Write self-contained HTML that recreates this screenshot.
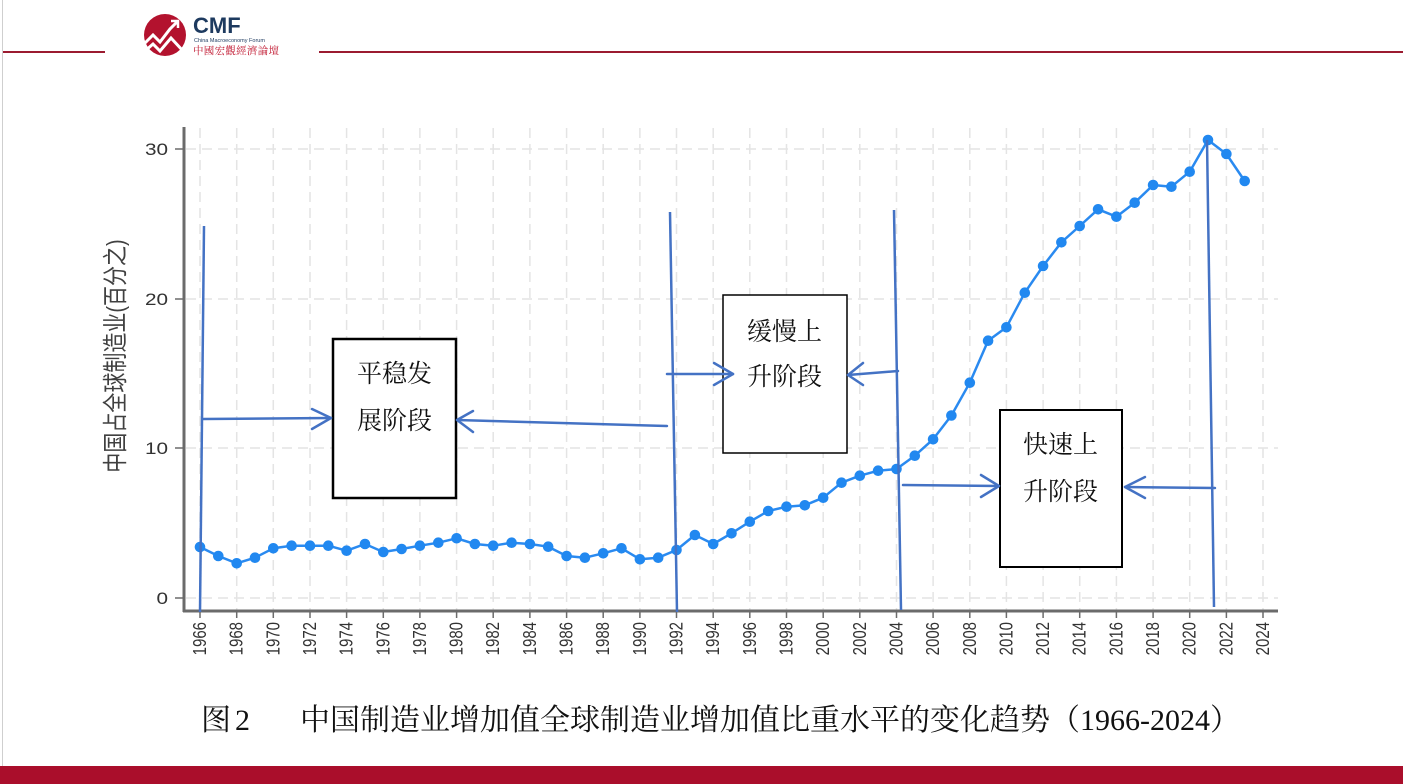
<!DOCTYPE html>
<html><head><meta charset="utf-8">
<style>
html,body{margin:0;padding:0;background:#fff;}
svg{display:block;}
</style></head>
<body>
<svg width="1403" height="784" viewBox="0 0 1403 784" xmlns="http://www.w3.org/2000/svg">
<rect x="0" y="0" width="1403" height="784" fill="#fff"/>
<!-- page left border -->
<line x1="2.5" y1="0" x2="2.5" y2="766" stroke="#cfcfcf" stroke-width="1"/>
<!-- header lines -->
<line x1="3" y1="52" x2="105" y2="52" stroke="#9b1b30" stroke-width="2"/>
<line x1="319" y1="52" x2="1403" y2="52" stroke="#9b1b30" stroke-width="2"/>
<!-- logo -->
<circle cx="165" cy="35" r="21" fill="#b3122e"/>
<polyline points="145,43 153,35 160,42 170,29 177,22" fill="none" stroke="#fff" stroke-width="3" stroke-linejoin="miter"/>
<polyline points="171,21 178,21 178,28" fill="none" stroke="#fff" stroke-width="2.5"/>
<polyline points="145,51 153,44 160,51 171,38 184,52" fill="none" stroke="#fff" stroke-width="3"/>
<text x="193" y="33" font-family="Liberation Sans, sans-serif" font-weight="bold" font-size="22" fill="#1d3a5f">CMF</text>
<text x="194" y="42" font-family="Liberation Sans, sans-serif" font-size="5.5" fill="#1d3a5f">China Macroeconomy Forum</text>
<text x="193" y="54" font-family="Liberation Serif, 'Noto Serif CJK SC', serif" font-size="10.5" fill="#c0162f" textLength="86">中國宏觀經濟論壇</text>

<!-- gridlines -->
<g stroke="#e4e4e4" stroke-width="1.5" stroke-dasharray="10,6" fill="none">
<line x1="186" y1="149" x2="1278" y2="149"/>
<line x1="186" y1="299" x2="1278" y2="299"/>
<line x1="186" y1="448" x2="1278" y2="448"/>
<line x1="186" y1="598" x2="1278" y2="598"/>
<line x1="200.0" y1="128" x2="200.0" y2="610"/>
<line x1="236.7" y1="128" x2="236.7" y2="610"/>
<line x1="273.3" y1="128" x2="273.3" y2="610"/>
<line x1="310.0" y1="128" x2="310.0" y2="610"/>
<line x1="346.6" y1="128" x2="346.6" y2="610"/>
<line x1="383.3" y1="128" x2="383.3" y2="610"/>
<line x1="419.9" y1="128" x2="419.9" y2="610"/>
<line x1="456.6" y1="128" x2="456.6" y2="610"/>
<line x1="493.2" y1="128" x2="493.2" y2="610"/>
<line x1="529.9" y1="128" x2="529.9" y2="610"/>
<line x1="566.6" y1="128" x2="566.6" y2="610"/>
<line x1="603.2" y1="128" x2="603.2" y2="610"/>
<line x1="639.9" y1="128" x2="639.9" y2="610"/>
<line x1="676.5" y1="128" x2="676.5" y2="610"/>
<line x1="713.2" y1="128" x2="713.2" y2="610"/>
<line x1="749.8" y1="128" x2="749.8" y2="610"/>
<line x1="786.5" y1="128" x2="786.5" y2="610"/>
<line x1="823.2" y1="128" x2="823.2" y2="610"/>
<line x1="859.8" y1="128" x2="859.8" y2="610"/>
<line x1="896.5" y1="128" x2="896.5" y2="610"/>
<line x1="933.1" y1="128" x2="933.1" y2="610"/>
<line x1="969.8" y1="128" x2="969.8" y2="610"/>
<line x1="1006.4" y1="128" x2="1006.4" y2="610"/>
<line x1="1043.1" y1="128" x2="1043.1" y2="610"/>
<line x1="1079.7" y1="128" x2="1079.7" y2="610"/>
<line x1="1116.4" y1="128" x2="1116.4" y2="610"/>
<line x1="1153.1" y1="128" x2="1153.1" y2="610"/>
<line x1="1189.7" y1="128" x2="1189.7" y2="610"/>
<line x1="1226.4" y1="128" x2="1226.4" y2="610"/>
<line x1="1263.0" y1="128" x2="1263.0" y2="610"/>
</g>

<!-- axes -->
<line x1="184" y1="127" x2="184" y2="612" stroke="#6b6b6b" stroke-width="3"/>
<line x1="183" y1="611" x2="1278" y2="611" stroke="#6b6b6b" stroke-width="3"/>
<g stroke="#6b6b6b" stroke-width="1.5">
<line x1="175" y1="149" x2="184" y2="149"/>
<line x1="175" y1="299" x2="184" y2="299"/>
<line x1="175" y1="448" x2="184" y2="448"/>
<line x1="175" y1="598" x2="184" y2="598"/>
</g>
<g stroke="#6b6b6b" stroke-width="1.5">
<line x1="200.0" y1="611" x2="200.0" y2="618"/>
<line x1="236.7" y1="611" x2="236.7" y2="618"/>
<line x1="273.3" y1="611" x2="273.3" y2="618"/>
<line x1="310.0" y1="611" x2="310.0" y2="618"/>
<line x1="346.6" y1="611" x2="346.6" y2="618"/>
<line x1="383.3" y1="611" x2="383.3" y2="618"/>
<line x1="419.9" y1="611" x2="419.9" y2="618"/>
<line x1="456.6" y1="611" x2="456.6" y2="618"/>
<line x1="493.2" y1="611" x2="493.2" y2="618"/>
<line x1="529.9" y1="611" x2="529.9" y2="618"/>
<line x1="566.6" y1="611" x2="566.6" y2="618"/>
<line x1="603.2" y1="611" x2="603.2" y2="618"/>
<line x1="639.9" y1="611" x2="639.9" y2="618"/>
<line x1="676.5" y1="611" x2="676.5" y2="618"/>
<line x1="713.2" y1="611" x2="713.2" y2="618"/>
<line x1="749.8" y1="611" x2="749.8" y2="618"/>
<line x1="786.5" y1="611" x2="786.5" y2="618"/>
<line x1="823.2" y1="611" x2="823.2" y2="618"/>
<line x1="859.8" y1="611" x2="859.8" y2="618"/>
<line x1="896.5" y1="611" x2="896.5" y2="618"/>
<line x1="933.1" y1="611" x2="933.1" y2="618"/>
<line x1="969.8" y1="611" x2="969.8" y2="618"/>
<line x1="1006.4" y1="611" x2="1006.4" y2="618"/>
<line x1="1043.1" y1="611" x2="1043.1" y2="618"/>
<line x1="1079.7" y1="611" x2="1079.7" y2="618"/>
<line x1="1116.4" y1="611" x2="1116.4" y2="618"/>
<line x1="1153.1" y1="611" x2="1153.1" y2="618"/>
<line x1="1189.7" y1="611" x2="1189.7" y2="618"/>
<line x1="1226.4" y1="611" x2="1226.4" y2="618"/>
<line x1="1263.0" y1="611" x2="1263.0" y2="618"/>
</g>

<!-- y tick labels -->
<g font-family="Liberation Sans, sans-serif" font-size="16.7" fill="#333" text-anchor="end">
<text transform="translate(168,155) scale(1.24,1)">30</text>
<text transform="translate(168,305) scale(1.24,1)">20</text>
<text transform="translate(168,454) scale(1.24,1)">10</text>
<text transform="translate(168,604) scale(1.24,1)">0</text>
</g>
<!-- y axis title -->
<text transform="translate(124,356) scale(1.24,1) rotate(-90)" text-anchor="middle" font-family="Liberation Sans, 'Noto Sans CJK SC', sans-serif" font-size="20" fill="#404040">中国占全球制造业(百分之)</text>

<!-- x tick labels -->
<g font-family="Liberation Sans, sans-serif" font-size="15" fill="#333" text-anchor="end">
<text transform="translate(206,622) scale(1.24,1) rotate(-90)">1966</text>
<text transform="translate(242.7,622) scale(1.24,1) rotate(-90)">1968</text>
<text transform="translate(279.3,622) scale(1.24,1) rotate(-90)">1970</text>
<text transform="translate(316,622) scale(1.24,1) rotate(-90)">1972</text>
<text transform="translate(352.6,622) scale(1.24,1) rotate(-90)">1974</text>
<text transform="translate(389.3,622) scale(1.24,1) rotate(-90)">1976</text>
<text transform="translate(425.9,622) scale(1.24,1) rotate(-90)">1978</text>
<text transform="translate(462.6,622) scale(1.24,1) rotate(-90)">1980</text>
<text transform="translate(499.2,622) scale(1.24,1) rotate(-90)">1982</text>
<text transform="translate(535.9,622) scale(1.24,1) rotate(-90)">1984</text>
<text transform="translate(572.6,622) scale(1.24,1) rotate(-90)">1986</text>
<text transform="translate(609.2,622) scale(1.24,1) rotate(-90)">1988</text>
<text transform="translate(645.9,622) scale(1.24,1) rotate(-90)">1990</text>
<text transform="translate(682.5,622) scale(1.24,1) rotate(-90)">1992</text>
<text transform="translate(719.2,622) scale(1.24,1) rotate(-90)">1994</text>
<text transform="translate(755.8,622) scale(1.24,1) rotate(-90)">1996</text>
<text transform="translate(792.5,622) scale(1.24,1) rotate(-90)">1998</text>
<text transform="translate(829.2,622) scale(1.24,1) rotate(-90)">2000</text>
<text transform="translate(865.8,622) scale(1.24,1) rotate(-90)">2002</text>
<text transform="translate(902.5,622) scale(1.24,1) rotate(-90)">2004</text>
<text transform="translate(939.1,622) scale(1.24,1) rotate(-90)">2006</text>
<text transform="translate(975.8,622) scale(1.24,1) rotate(-90)">2008</text>
<text transform="translate(1012.4,622) scale(1.24,1) rotate(-90)">2010</text>
<text transform="translate(1049.1,622) scale(1.24,1) rotate(-90)">2012</text>
<text transform="translate(1085.7,622) scale(1.24,1) rotate(-90)">2014</text>
<text transform="translate(1122.4,622) scale(1.24,1) rotate(-90)">2016</text>
<text transform="translate(1159.1,622) scale(1.24,1) rotate(-90)">2018</text>
<text transform="translate(1195.7,622) scale(1.24,1) rotate(-90)">2020</text>
<text transform="translate(1232.4,622) scale(1.24,1) rotate(-90)">2022</text>
<text transform="translate(1269,622) scale(1.24,1) rotate(-90)">2024</text>
</g>

<!-- data series -->
<polyline fill="none" stroke="#2a8af0" stroke-width="2.5" stroke-linejoin="round" points="
200.0,547 218.3,556 236.7,563.3 255.0,557.7 273.3,548.3 291.6,545.7 310.0,545.7 328.3,545.7 346.6,550.7 365.0,544
383.3,552 401.6,549 419.9,545.7 438.3,542.7 456.6,538.3 474.9,544 493.2,545.7 511.6,542.7 529.9,544 548.2,546.7
566.6,556 584.9,557.7 603.2,553.3 621.5,548.3 639.9,559.3 658.2,557.7 676.5,550 694.9,535 713.2,544 731.5,533.3
749.8,521.7 768.2,511 786.5,506.7 804.8,505.3 823.2,497.7 841.5,482.7 859.8,475.7 878.1,470.7 896.5,469 914.8,455.7
933.1,439.3 951.4,415.5 969.8,382.7 988.1,340.7 1006.4,327.3 1024.8,292.7 1043.1,266 1061.4,242.3 1079.7,226 1098.1,209.3
1116.4,216.7 1134.7,202.7 1153.1,185 1171.4,186.7 1189.7,171.7 1208.0,140 1226.4,154 1244.7,181"/>
<g fill="#2188f0">
<circle cx="200.0" cy="547" r="5.3"/><circle cx="218.3" cy="556" r="5.3"/><circle cx="236.7" cy="563.3" r="5.3"/><circle cx="255.0" cy="557.7" r="5.3"/><circle cx="273.3" cy="548.3" r="5.3"/>
<circle cx="291.6" cy="545.7" r="5.3"/><circle cx="310.0" cy="545.7" r="5.3"/><circle cx="328.3" cy="545.7" r="5.3"/><circle cx="346.6" cy="550.7" r="5.3"/><circle cx="365.0" cy="544" r="5.3"/>
<circle cx="383.3" cy="552" r="5.3"/><circle cx="401.6" cy="549" r="5.3"/><circle cx="419.9" cy="545.7" r="5.3"/><circle cx="438.3" cy="542.7" r="5.3"/><circle cx="456.6" cy="538.3" r="5.3"/>
<circle cx="474.9" cy="544" r="5.3"/><circle cx="493.2" cy="545.7" r="5.3"/><circle cx="511.6" cy="542.7" r="5.3"/><circle cx="529.9" cy="544" r="5.3"/><circle cx="548.2" cy="546.7" r="5.3"/>
<circle cx="566.6" cy="556" r="5.3"/><circle cx="584.9" cy="557.7" r="5.3"/><circle cx="603.2" cy="553.3" r="5.3"/><circle cx="621.5" cy="548.3" r="5.3"/><circle cx="639.9" cy="559.3" r="5.3"/>
<circle cx="658.2" cy="557.7" r="5.3"/><circle cx="676.5" cy="550" r="5.3"/><circle cx="694.9" cy="535" r="5.3"/><circle cx="713.2" cy="544" r="5.3"/><circle cx="731.5" cy="533.3" r="5.3"/>
<circle cx="749.8" cy="521.7" r="5.3"/><circle cx="768.2" cy="511" r="5.3"/><circle cx="786.5" cy="506.7" r="5.3"/><circle cx="804.8" cy="505.3" r="5.3"/><circle cx="823.2" cy="497.7" r="5.3"/>
<circle cx="841.5" cy="482.7" r="5.3"/><circle cx="859.8" cy="475.7" r="5.3"/><circle cx="878.1" cy="470.7" r="5.3"/><circle cx="896.5" cy="469" r="5.3"/><circle cx="914.8" cy="455.7" r="5.3"/>
<circle cx="933.1" cy="439.3" r="5.3"/><circle cx="951.4" cy="415.5" r="5.3"/><circle cx="969.8" cy="382.7" r="5.3"/><circle cx="988.1" cy="340.7" r="5.3"/><circle cx="1006.4" cy="327.3" r="5.3"/>
<circle cx="1024.8" cy="292.7" r="5.3"/><circle cx="1043.1" cy="266" r="5.3"/><circle cx="1061.4" cy="242.3" r="5.3"/><circle cx="1079.7" cy="226" r="5.3"/><circle cx="1098.1" cy="209.3" r="5.3"/>
<circle cx="1116.4" cy="216.7" r="5.3"/><circle cx="1134.7" cy="202.7" r="5.3"/><circle cx="1153.1" cy="185" r="5.3"/><circle cx="1171.4" cy="186.7" r="5.3"/><circle cx="1189.7" cy="171.7" r="5.3"/>
<circle cx="1208.0" cy="140" r="5.3"/><circle cx="1226.4" cy="154" r="5.3"/><circle cx="1244.7" cy="181" r="5.3"/>
</g>

<!-- annotation vertical lines -->
<g stroke="#4472c4" stroke-width="2.5" fill="none">
<line x1="204" y1="226" x2="200" y2="612"/>
<line x1="670" y1="212" x2="677" y2="612"/>
<line x1="894" y1="210" x2="901" y2="610"/>
<line x1="1207" y1="140" x2="1214" y2="607"/>
</g>

<!-- boxes -->
<rect x="333" y="339" width="123" height="159" fill="#fff" stroke="#000" stroke-width="2.5"/>
<rect x="723" y="295" width="124" height="158" fill="#fff" stroke="#000" stroke-width="1.5"/>
<rect x="1000" y="410" width="122" height="157" fill="#fff" stroke="#000" stroke-width="2"/>

<g font-family="Liberation Serif, 'Noto Serif CJK SC', serif" font-size="25" fill="#111">
<text x="357" y="382">平稳发</text>
<text x="357" y="429">展阶段</text>
<text x="747" y="340">缓慢上</text>
<text x="747" y="385">升阶段</text>
<text x="1023" y="453">快速上</text>
<text x="1023" y="500">升阶段</text>
</g>

<!-- arrows -->
<g stroke="#4472c4" stroke-width="2.5" fill="none" stroke-linecap="round" stroke-linejoin="round">
<line x1="203" y1="419" x2="331" y2="418"/>
<polyline points="312,409 331,418 312,429"/>
<line x1="667" y1="426" x2="457" y2="420"/>
<polyline points="473,411 457,420 473,432"/>
<line x1="667" y1="374" x2="733" y2="374"/>
<polyline points="714,363 733,374 714,385"/>
<line x1="898" y1="371" x2="848" y2="375"/>
<polyline points="863,363 848,375 863,385"/>
<line x1="903" y1="485" x2="999" y2="486"/>
<polyline points="981,475 999,486 981,497"/>
<line x1="1215" y1="488" x2="1125" y2="487"/>
<polyline points="1145,477 1125,487 1145,498"/>
</g>

<!-- caption -->
<g font-family="Liberation Serif, 'Noto Serif CJK SC', serif" font-size="30" fill="#111">
<text x="201" y="730">图</text>
<text x="235" y="730">2</text>
<text x="300" y="730">中国制造业增加值全球制造业增加值比重水平的变化趋势（1966-2024）</text>
</g>

<!-- footer bar -->
<rect x="0" y="766" width="1403" height="18" fill="#aa0e2b"/>
</svg>
</body></html>
